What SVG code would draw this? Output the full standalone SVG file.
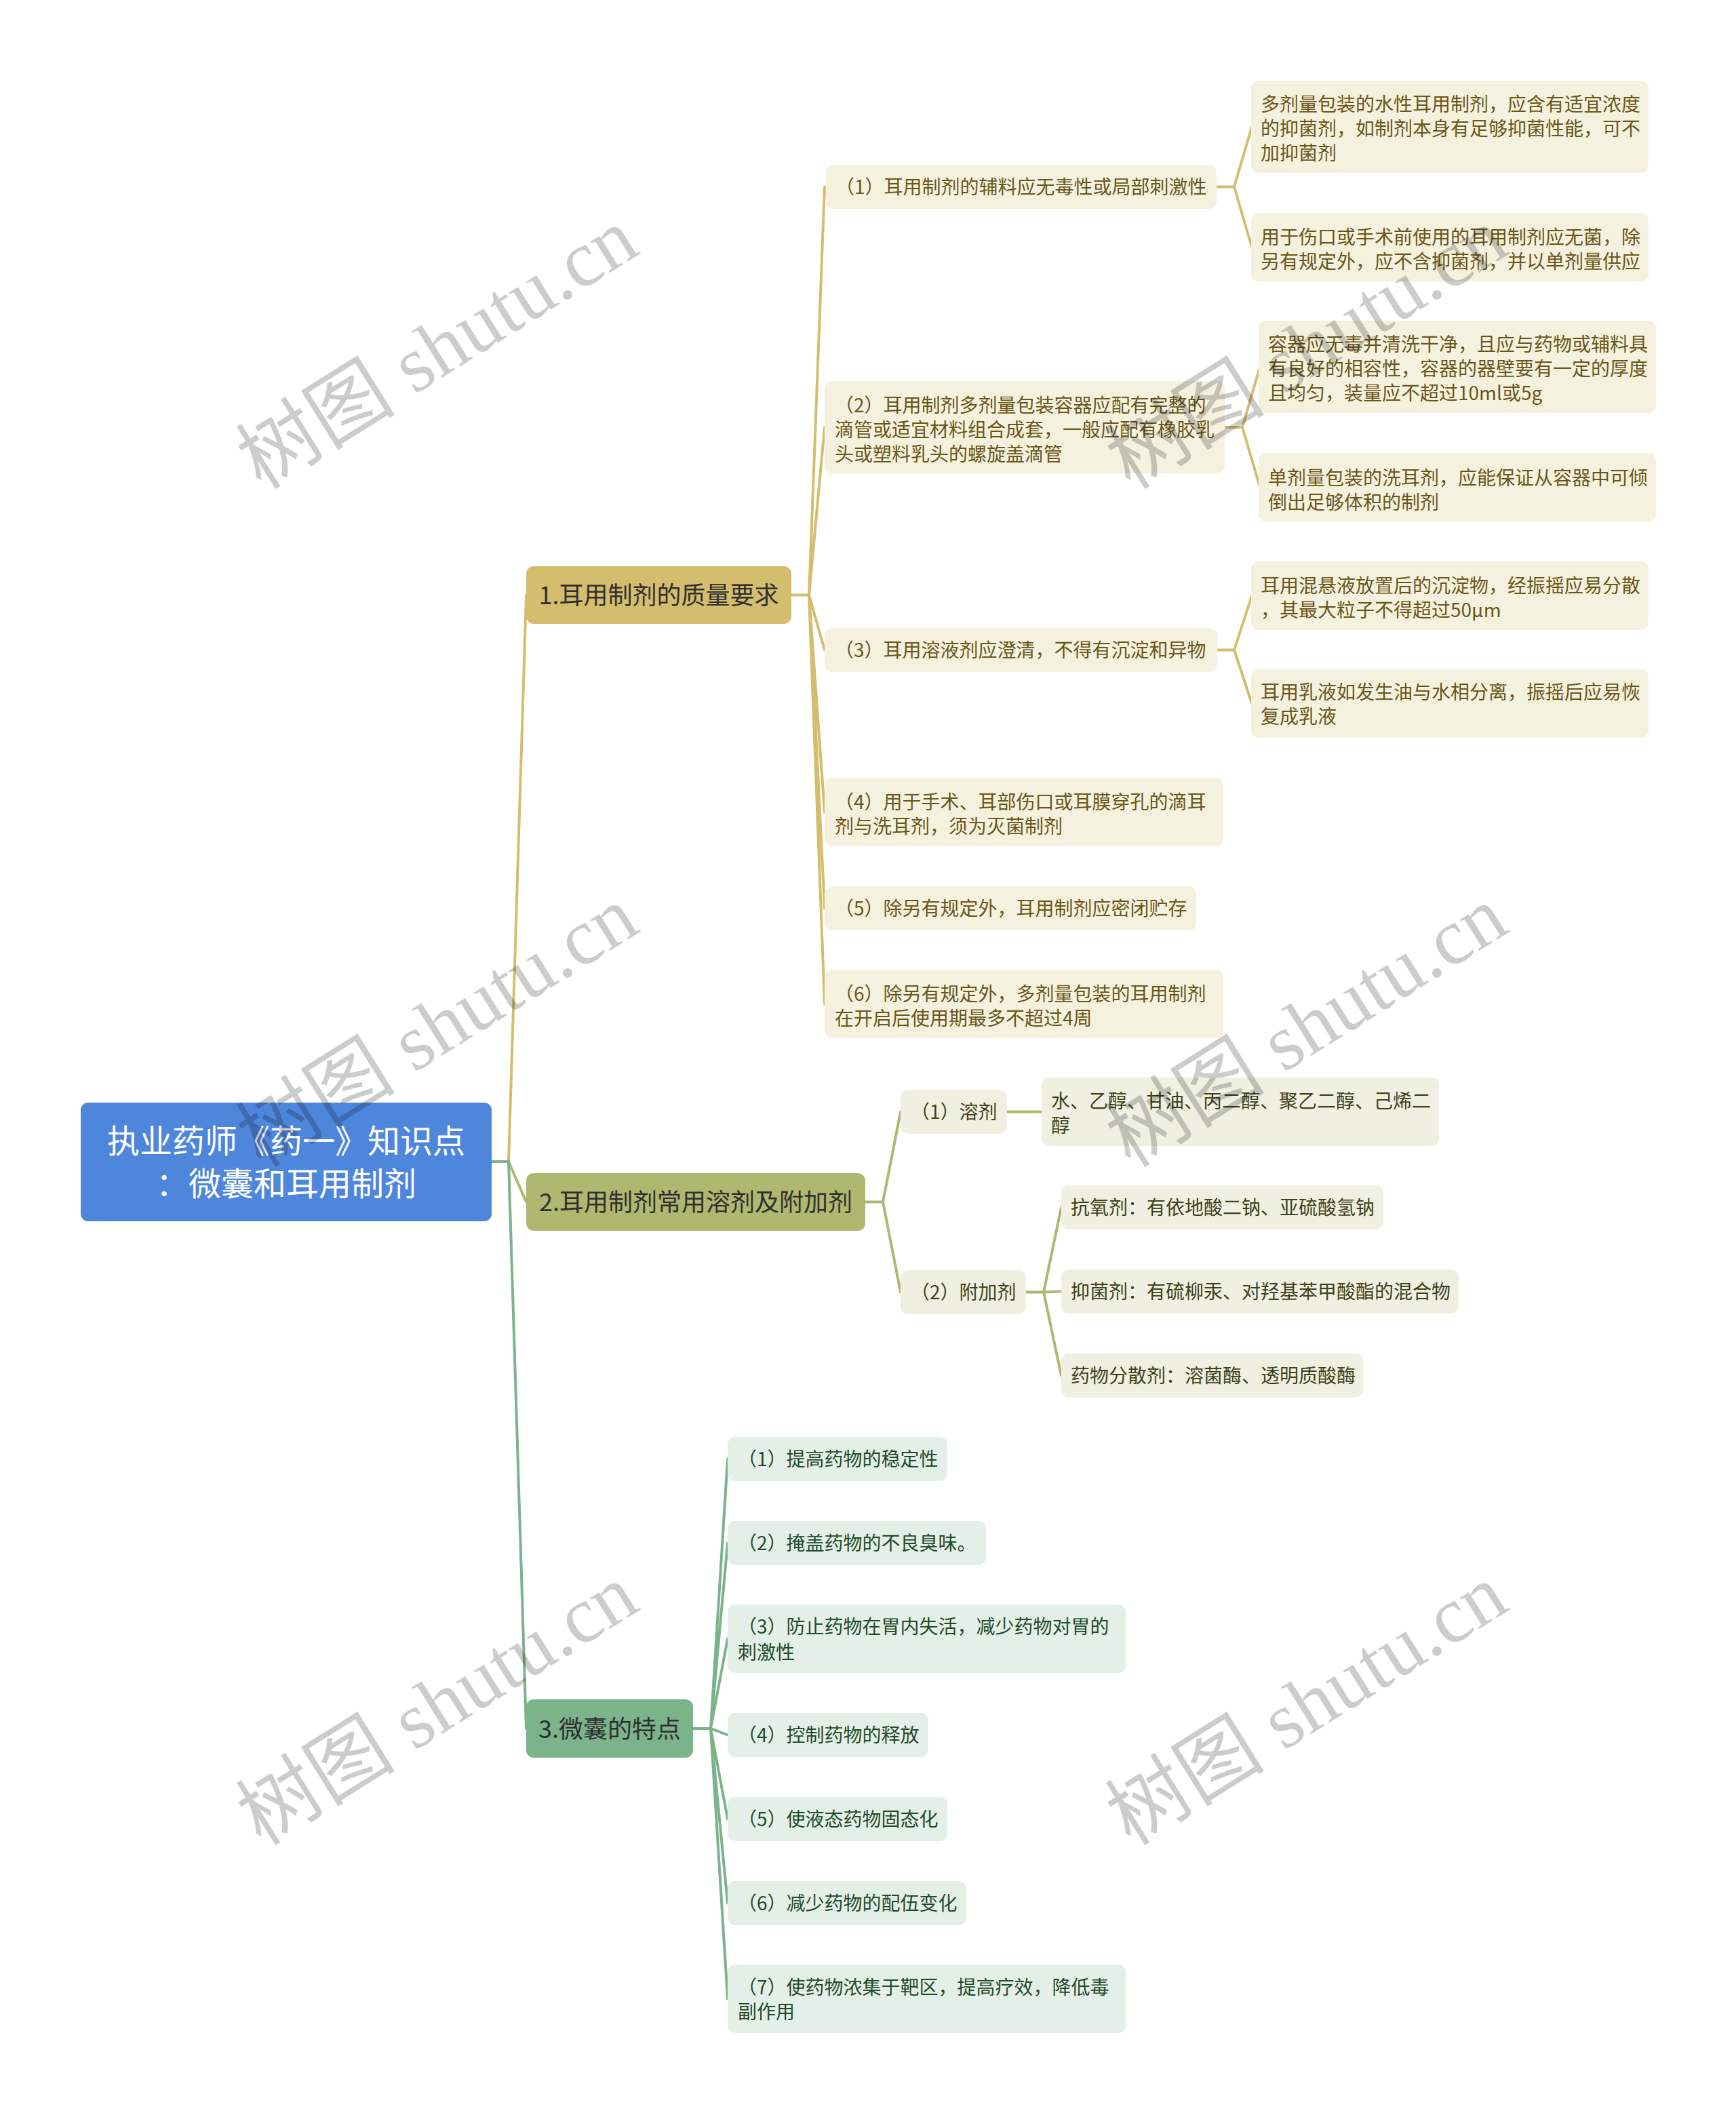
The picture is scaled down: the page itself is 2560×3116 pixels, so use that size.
<svg xmlns="http://www.w3.org/2000/svg" width="2560" height="3116" viewBox="0 0 2560 3116">
<style>
text{font-family:"Noto Sans CJK SC","Noto Sans",sans-serif;}
.root rect{fill:#4E86DC;}
.root text{fill:#ffffff;font-size:48px;text-anchor:middle;}
.br text{font-size:36px;fill:#2f2f2f;text-anchor:middle;}
.b1 rect{fill:#D4BD6C;}
.b2 rect{fill:#AEB86F;}
.b3 rect{fill:#7BB38B;}
.g rect{fill:#F5F1DF;}
.g text{fill:#6A5619;font-size:28px;}
.o rect{fill:#EFF0E2;}
.o text{fill:#3D4318;font-size:28px;}
.n rect{fill:#E4EFE8;}
.n text{fill:#1F4B2B;font-size:28px;}
.c path{fill:none;stroke-width:4;stroke-linejoin:round;stroke-linecap:round;}
.cg path{stroke:#D4BD6C;}
.co path{stroke:#AEB86F;}
.cn path{stroke:#7BB38B;}
.wm text{font-family:"Liberation Serif","Noto Sans CJK SC",serif;font-size:118px;fill:#000;fill-opacity:0.2;text-anchor:middle;}
</style>
<rect width="2560" height="3116" fill="#ffffff"/>

<g id="connectors" class="c">
  <g class="cg">
    <path d="M750 1713 L776 877.5"/>
    <path d="M1167 877.5 H1193 M1193 877.5 L1216 275.5 M1193 877.5 L1216 630 M1193 877.5 L1216 958.5 M1193 877.5 L1216 1197.5 M1193 877.5 L1216 1339.5 M1193 877.5 L1216 1480.5"/>
    <path d="M1794 275.5 H1820 M1820 275.5 L1846 187 M1820 275.5 L1846 364.5"/>
    <path d="M1806 630 H1832 M1832 630 L1858 541 M1832 630 L1858 718.5"/>
    <path d="M1795 958.5 H1820 M1820 958.5 L1846 878.5 M1820 958.5 L1846 1037.5"/>
  </g>
  <g class="co">
    <path d="M750 1713 L776 1772.5"/>
    <path d="M1276 1772.5 H1302 M1302 1772.5 L1328 1639.5 M1302 1772.5 L1328 1905.5"/>
    <path d="M1485 1639.5 H1536"/>
    <path d="M1513 1905.5 H1539 M1539 1905.5 L1565 1780.5 M1539 1905.5 L1565 1904.5 M1539 1905.5 L1565 2028.5"/>
  </g>
  <g class="cn">
    <path d="M726 1713 H750 L776 2549"/>
    <path d="M1022 2549 H1048 M1048 2549 L1073 2151.5 M1048 2549 L1073 2275.5 M1048 2549 L1073 2416.5 M1048 2549 L1073 2558.5 M1048 2549 L1073 2682.5 M1048 2549 L1073 2806.5 M1048 2549 L1073 2947.5"/>
  </g>
</g>

<g id="root" class="root">
  <rect x="119" y="1626" width="606" height="175" rx="11"/>
  <text x="422" y="1700">执业药师《药一》知识点</text>
  <text x="422" y="1763">：微囊和耳用制剂</text>
</g>

<g id="branch1" class="br b1">
  <rect x="776" y="835" width="391" height="85" rx="11"/>
  <text x="971.5" y="891">1.耳用制剂的质量要求</text>
</g>
<g id="branch2" class="br b2">
  <rect x="776" y="1730" width="500" height="85" rx="11"/>
  <text x="1026" y="1786">2.耳用制剂常用溶剂及附加剂</text>
</g>
<g id="branch3" class="br b3">
  <rect x="776" y="2506" width="246" height="86" rx="11"/>
  <text x="899" y="2563">3.微囊的特点</text>
</g>

<g id="b1-1" class="g">
  <rect x="1218" y="243" width="576" height="65" rx="11"/>
  <text x="1232" y="286">（1）耳用制剂的辅料应无毒性或局部刺激性</text>
</g>
<g id="b1-1-a" class="g">
  <rect x="1845" y="119" width="586" height="136" rx="11"/>
  <text x="1859" y="164">多剂量包装的水性耳用制剂，应含有适宜浓度</text>
  <text x="1859" y="200">的抑菌剂，如制剂本身有足够抑菌性能，可不</text>
  <text x="1859" y="236">加抑菌剂</text>
</g>
<g id="b1-1-b" class="g">
  <rect x="1845" y="314" width="586" height="101" rx="11"/>
  <text x="1859" y="360">用于伤口或手术前使用的耳用制剂应无菌，除</text>
  <text x="1859" y="396">另有规定外，应不含抑菌剂，并以单剂量供应</text>
</g>

<g id="b1-2" class="g">
  <rect x="1216" y="562" width="590" height="136" rx="11"/>
  <text x="1231" y="608">（2）耳用制剂多剂量包装容器应配有完整的</text>
  <text x="1231" y="644">滴管或适宜材料组合成套，一般应配有橡胶乳</text>
  <text x="1231" y="680">头或塑料乳头的螺旋盖滴管</text>
</g>
<g id="b1-2-a" class="g">
  <rect x="1856" y="473" width="586" height="136" rx="11"/>
  <text x="1870" y="518">容器应无毒并清洗干净，且应与药物或辅料具</text>
  <text x="1870" y="554">有良好的相容性，容器的器壁要有一定的厚度</text>
  <text x="1870" y="590">且均匀，装量应不超过10ml或5g</text>
</g>
<g id="b1-2-b" class="g">
  <rect x="1856" y="668" width="586" height="101" rx="11"/>
  <text x="1870" y="715">单剂量包装的洗耳剂，应能保证从容器中可倾</text>
  <text x="1870" y="751">倒出足够体积的制剂</text>
</g>

<g id="b1-3" class="g">
  <rect x="1216" y="926" width="579" height="65" rx="11"/>
  <text x="1231" y="969">（3）耳用溶液剂应澄清，不得有沉淀和异物</text>
</g>
<g id="b1-3-a" class="g">
  <rect x="1845" y="828" width="586" height="101" rx="11"/>
  <text x="1859" y="874">耳用混悬液放置后的沉淀物，经振摇应易分散</text>
  <text x="1859" y="910">，其最大粒子不得超过50μm</text>
</g>
<g id="b1-3-b" class="g">
  <rect x="1845" y="987" width="586" height="101" rx="11"/>
  <text x="1859" y="1031">耳用乳液如发生油与水相分离，振摇后应易恢</text>
  <text x="1859" y="1067">复成乳液</text>
</g>

<g id="b1-4" class="g">
  <rect x="1216" y="1147" width="588" height="101" rx="11"/>
  <text x="1231" y="1193">（4）用于手术、耳部伤口或耳膜穿孔的滴耳</text>
  <text x="1231" y="1229">剂与洗耳剂，须为灭菌制剂</text>
</g>
<g id="b1-5" class="g">
  <rect x="1216" y="1307" width="548" height="65" rx="11"/>
  <text x="1231" y="1350">（5）除另有规定外，耳用制剂应密闭贮存</text>
</g>
<g id="b1-6" class="g">
  <rect x="1216" y="1430" width="588" height="101" rx="11"/>
  <text x="1231" y="1476">（6）除另有规定外，多剂量包装的耳用制剂</text>
  <text x="1231" y="1512">在开启后使用期最多不超过4周</text>
</g>

<g id="b2-1" class="o">
  <rect x="1328" y="1607" width="157" height="65" rx="11"/>
  <text x="1343" y="1650">（1）溶剂</text>
</g>
<g id="b2-1-a" class="o">
  <rect x="1536" y="1589" width="586" height="101" rx="11"/>
  <text x="1550" y="1634">水、乙醇、甘油、丙二醇、聚乙二醇、己烯二</text>
  <text x="1550" y="1670">醇</text>
</g>
<g id="b2-2" class="o">
  <rect x="1328" y="1873" width="185" height="65" rx="11"/>
  <text x="1343" y="1916">（2）附加剂</text>
</g>
<g id="b2-2-a" class="o">
  <rect x="1565" y="1748" width="475" height="65" rx="11"/>
  <text x="1579" y="1791">抗氧剂：有依地酸二钠、亚硫酸氢钠</text>
</g>
<g id="b2-2-b" class="o">
  <rect x="1565" y="1872" width="586" height="65" rx="11"/>
  <text x="1579" y="1915">抑菌剂：有硫柳汞、对羟基苯甲酸酯的混合物</text>
</g>
<g id="b2-2-c" class="o">
  <rect x="1565" y="1996" width="445" height="65" rx="11"/>
  <text x="1579" y="2039">药物分散剂：溶菌酶、透明质酸酶</text>
</g>

<g id="b3-1" class="n">
  <rect x="1073" y="2119" width="324" height="65" rx="11"/>
  <text x="1088" y="2162">（1）提高药物的稳定性</text>
</g>
<g id="b3-2" class="n">
  <rect x="1073" y="2243" width="381" height="65" rx="11"/>
  <text x="1088" y="2286">（2）掩盖药物的不良臭味。</text>
</g>
<g id="b3-3" class="n">
  <rect x="1073" y="2366" width="587" height="101" rx="11"/>
  <text x="1088" y="2409">（3）防止药物在胃内失活，减少药物对胃的</text>
  <text x="1088" y="2447">刺激性</text>
</g>
<g id="b3-4" class="n">
  <rect x="1073" y="2526" width="296" height="65" rx="11"/>
  <text x="1088" y="2569">（4）控制药物的释放</text>
</g>
<g id="b3-5" class="n">
  <rect x="1073" y="2650" width="324" height="65" rx="11"/>
  <text x="1088" y="2693">（5）使液态药物固态化</text>
</g>
<g id="b3-6" class="n">
  <rect x="1073" y="2774" width="352" height="65" rx="11"/>
  <text x="1088" y="2817">（6）减少药物的配伍变化</text>
</g>
<g id="b3-7" class="n">
  <rect x="1073" y="2897" width="587" height="101" rx="11"/>
  <text x="1088" y="2941">（7）使药物浓集于靶区，提高疗效，降低毒</text>
  <text x="1088" y="2977">副作用</text>
</g>

<g id="watermarks" class="wm">
  <text transform="translate(666 548) rotate(-32)">树图 shutu.cn</text>
  <text transform="translate(1948 548) rotate(-32)">树图 shutu.cn</text>
  <text transform="translate(666 1548) rotate(-32)">树图 shutu.cn</text>
  <text transform="translate(1948 1548) rotate(-32)">树图 shutu.cn</text>
  <text transform="translate(666 2548) rotate(-32)">树图 shutu.cn</text>
  <text transform="translate(1948 2548) rotate(-32)">树图 shutu.cn</text>
</g>
</svg>
